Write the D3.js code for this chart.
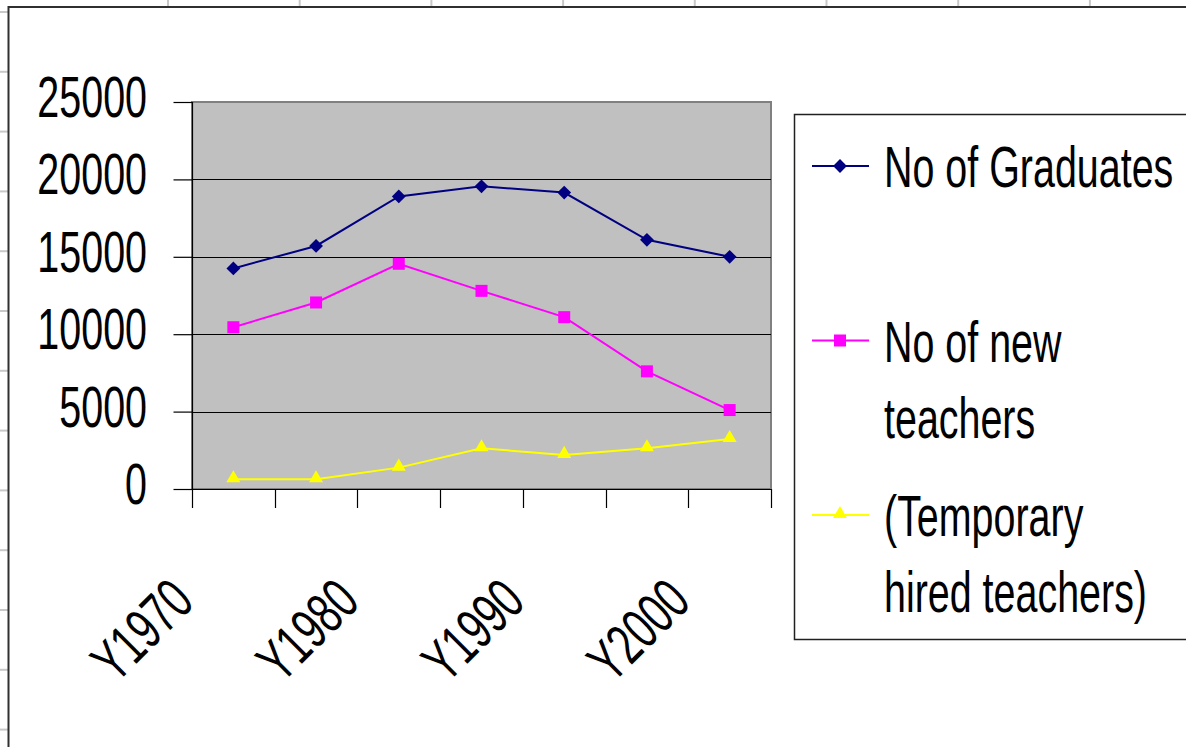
<!DOCTYPE html>
<html><head><meta charset="utf-8">
<script src="https://cdn.jsdelivr.net/npm/d3@7/dist/d3.min.js"></script>
<style>html,body{margin:0;padding:0;background:#fff;overflow:hidden}</style>
</head><body>
<svg id="c" width="1186" height="747"></svg>
<script>
const categories = ["Y1970","Y1975","Y1980","Y1985","Y1990","Y1995","Y2000"];
const shownTickLabels = ["Y1970","Y1980","Y1990","Y2000"];
const graduates = [14250, 15700, 18900, 19550, 19150, 16100, 15000];
const newTeachers = [10450, 12050, 14550, 12800, 11100, 7600, 5100];
const temporaryTeachers = [630, 630, 1380, 2630, 2200, 2630, 3230];
const yTicks = [0, 5000, 10000, 15000, 20000, 25000];
const seriesNames = [["No of Graduates"], ["No of new", "teachers"], ["(Temporary", "hired teachers)"]];

const svg = d3.select("#c");
const FONT = "'Liberation Sans', Arial, sans-serif";
const FS = 58, SX = 0.68;

// spreadsheet background gridlines
const sheet = svg.append("g");
d3.range(168, 1186, 131.7).forEach(x => sheet.append("line").attr("x1", x).attr("x2", x).attr("y1", 0).attr("y2", 8).attr("stroke", "#c8c8c8").attr("stroke-width", 2));
d3.range(12, 747, 59.8).forEach(y => sheet.append("line").attr("x1", 0).attr("x2", 9).attr("y1", y).attr("y2", y).attr("stroke", "#c8c8c8").attr("stroke-width", 2));

// chart area
svg.append("rect").attr("x", 8.5).attr("y", 7).attr("width", 1300).attr("height", 900)
  .attr("fill", "#fff").attr("stroke", "#303030").attr("stroke-width", 2);

const x = d3.scaleBand().domain(categories).range([192, 771]).paddingInner(0).paddingOuter(0);
const y = d3.scaleLinear().domain([0, 25000]).range([489, 102]);
const cx = d => x(d) + x.bandwidth() / 2;

// plot area
svg.append("rect").attr("x", x.range()[0]).attr("y", y(25000)).attr("width", x.range()[1] - x.range()[0]).attr("height", y(0) - y(25000))
  .attr("fill", "#c0c0c0").attr("stroke", "#808080").attr("stroke-width", 2);

// gridlines
svg.append("g").selectAll("line").data(yTicks.filter(t => t > 0 && t < 25000)).join("line")
  .attr("x1", 192).attr("x2", 771).attr("y1", d => Math.round(y(d)) + 0.5).attr("y2", d => Math.round(y(d)) + 0.5)
  .attr("stroke", "#000").attr("stroke-width", 1.2);

// y axis
const yAxis = d3.axisLeft(y).tickValues(yTicks).tickSize(19).tickFormat("");
const gy = svg.append("g").attr("transform", "translate(192.5,0)").call(yAxis);
gy.selectAll("line,path").attr("stroke", "#000").attr("stroke-width", 1.2);
gy.select(".domain").attr("d", `M0,${y(25000)}V${y(0)+0}`);
svg.append("g").selectAll("text").data(yTicks).join("text")
  .attr("transform", d => `translate(147,${y(d) + 15}) scale(${SX},1)`)
  .attr("text-anchor", "end").attr("font-family", FONT).attr("font-size", FS).attr("fill", "#000")
  .text(d => d);

// x axis
const xAxis = d3.axisBottom(x).tickSize(0).tickFormat("");
const gx = svg.append("g").attr("transform", "translate(0,489.5)").call(xAxis);
gx.select(".domain").attr("stroke", "#000").attr("stroke-width", 1.2).attr("d", "M192,0H771");
gx.selectAll(".tick").remove();
const boundaries = categories.map(c => x(c)).concat([x.range()[1]]);
svg.append("g").selectAll("line").data(boundaries).join("line")
  .attr("x1", d => Math.round(d) + 0.5).attr("x2", d => Math.round(d) + 0.5).attr("y1", 489).attr("y2", 508)
  .attr("stroke", "#000").attr("stroke-width", 1.2);
svg.append("g").selectAll("text").data(shownTickLabels).join("text")
  .attr("transform", d => `translate(${cx(d) - 37},604) rotate(-45) scale(${SX},1)`)
  .attr("text-anchor", "end").attr("font-family", FONT).attr("font-size", FS).attr("fill", "#000")
  .text(d => d);

// series
const series = [
  { values: graduates, color: "#000080", symbol: "diamond" },
  { values: newTeachers, color: "#ff00ff", symbol: "square" },
  { values: temporaryTeachers, color: "#ffff00", symbol: "triangle" }
];
function symbolPath(kind) {
  if (kind === "diamond") return d3.symbol(d3.symbolSquare, 95)();
  if (kind === "square") return d3.symbol(d3.symbolSquare, 144)();
  return d3.symbol(d3.symbolTriangle, 85)();
}
const line = d3.line().x((d, i) => cx(categories[i])).y(d => y(d));
series.forEach(s => {
  const g = svg.append("g");
  g.append("path").attr("d", line(s.values)).attr("fill", "none").attr("stroke", s.color).attr("stroke-width", 2);
  g.selectAll("path.m").data(s.values).join("path").attr("class", "m")
    .attr("d", symbolPath(s.symbol))
    .attr("transform", (d, i) => `translate(${cx(categories[i])},${y(d) - (s.symbol === "triangle" ? 1 : 0)})${s.symbol === "diamond" ? " rotate(45)" : ""}`)
    .attr("fill", s.color);
});

// legend
svg.append("rect").attr("x", 794.5).attr("y", 114.5).attr("width", 500).attr("height", 525)
  .attr("fill", "#fff").attr("stroke", "#202020").attr("stroke-width", 1.5);
series.forEach((s, i) => {
  const by = 187 + i * 174.5;
  const g = svg.append("g");
  g.append("line").attr("x1", 812).attr("x2", 869).attr("y1", by - 21).attr("y2", by - 21).attr("stroke", s.color).attr("stroke-width", 2);
  g.append("path").attr("d", symbolPath(s.symbol))
    .attr("transform", `translate(840,${by - 21 - (s.symbol === "triangle" ? 1 : 0)})${s.symbol === "diamond" ? " rotate(45)" : ""}`)
    .attr("fill", s.color);
  seriesNames[i].forEach((t, j) => {
    g.append("text").attr("transform", `translate(884,${by + j * 76}) scale(${SX},1)`)
      .attr("font-family", FONT).attr("font-size", FS).attr("fill", "#000").text(t);
  });
});
</script>
</body></html>
